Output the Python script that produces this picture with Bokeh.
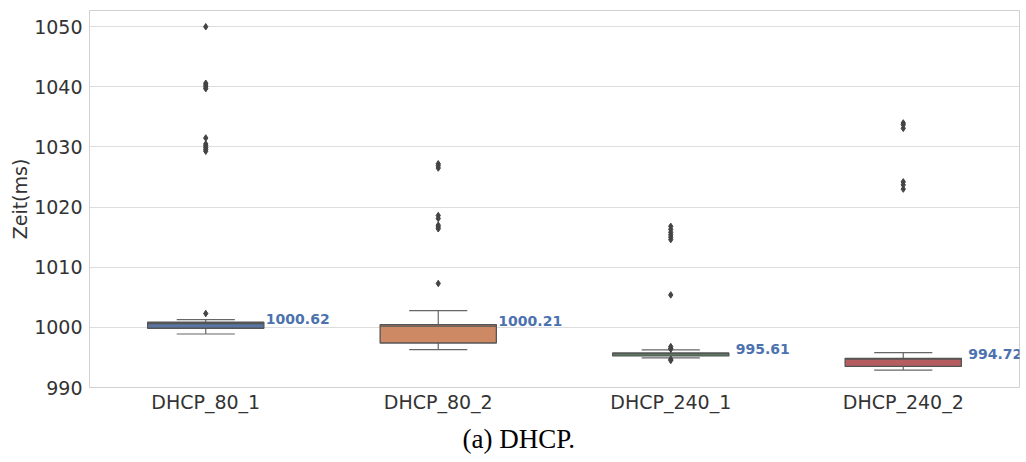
from bokeh.plotting import figure
from bokeh.models import ColumnDataSource, Range1d, FixedTicker, Title, Label
from bokeh.transform import dodge
from bokeh.embed import file_html
from bokeh.resources import INLINE

categories = ["DHCP_80_1", "DHCP_80_2", "DHCP_240_1", "DHCP_240_2"]
q1 = [999.85, 997.4, 995.25, 993.5]
q3 = [1000.85, 1000.47, 995.75, 994.85]
medians = [1000.62, 1000.21, 995.61, 994.72]
whisker_low = [998.9, 996.3, 994.93, 992.9]
whisker_high = [1001.3, 1002.8, 996.26, 995.8]
median_labels = ["1000.62", "1000.21", "995.61", "994.72"]
colors = ["#5975a4", "#cc8963", "#5f9e6e", "#b55d60"]

outliers_80_1 = [1050.0, 1040.6, 1040.3, 1040.0, 1039.7, 1031.5, 1030.5, 1030.2,
                 1029.9, 1029.6, 1029.3, 1002.3]
outliers_80_2 = [1027.2, 1026.9, 1026.5, 1018.6, 1018.1, 1017.0, 1016.7, 1016.4, 1007.3]
outliers_240_1 = [1016.8, 1016.3, 1015.8, 1015.4, 1015.0, 1014.6, 1005.4,
                  996.8, 996.5, 996.4, 994.7, 994.5]
outliers_240_2 = [1034.0, 1033.7, 1033.1, 1024.2, 1023.7, 1023.0]
outliers = [outliers_80_1, outliers_80_2, outliers_240_1, outliers_240_2]

EDGE = "#555555"
WHISK = "#666666"
TXT = "#333333"

p = figure(width=1026, height=462, x_range=categories, y_range=Range1d(990, 1052.7),
           output_backend="svg", toolbar_location=None,
           min_border_left=89, min_border_right=7, min_border_top=10, min_border_bottom=75)

src = ColumnDataSource(dict(cat=categories, q1=q1, q3=q3, med=medians, lo=whisker_low,
                            hi=whisker_high, color=colors))

# whiskers
p.segment(x0="cat", x1="cat", y0="q3", y1="hi", source=src, line_color=WHISK, line_width=1.2)
p.segment(x0="cat", x1="cat", y0="q1", y1="lo", source=src, line_color=WHISK, line_width=1.2)
p.segment(x0=dodge("cat", -0.125, range=p.x_range), x1=dodge("cat", 0.125, range=p.x_range),
          y0="hi", y1="hi", source=src, line_color=WHISK, line_width=1.2)
p.segment(x0=dodge("cat", -0.125, range=p.x_range), x1=dodge("cat", 0.125, range=p.x_range),
          y0="lo", y1="lo", source=src, line_color=WHISK, line_width=1.2)

# boxes
p.vbar(x="cat", width=0.5, top="q3", bottom="q1", source=src, fill_color="color",
       line_color=EDGE, line_width=1.3)
p.segment(x0=dodge("cat", -0.25, range=p.x_range), x1=dodge("cat", 0.25, range=p.x_range),
          y0="med", y1="med", source=src, line_color=EDGE, line_width=1.3)

# outliers
ox, oy = [], []
for c, vals in zip(categories, outliers):
    for v in vals:
        ox.append(c)
        oy.append(v)
p.scatter(x=ox, y=oy, marker="diamond", size=6.5, fill_color="#444444", line_color="#444444")

# median labels (annotations so they are not clipped at the frame edge);
# x uses the categorical range's synthetic coordinate (factor i sits at i + 0.5)
for i, (m, lab) in enumerate(zip(medians, median_labels)):
    p.add_layout(Label(x=i + 0.5, y=m, text=lab, x_offset=92, y_offset=5,
                       text_font="DejaVu Sans", text_font_size="14px",
                       text_font_style="bold", text_color="#4c72b0",
                       text_baseline="middle", text_align="center"))

# axes styling
p.yaxis.ticker = FixedTicker(ticks=[990, 1000, 1010, 1020, 1030, 1040, 1050])
p.yaxis.axis_label = "Zeit(ms)"
for ax in (p.xaxis[0], p.yaxis[0]):
    ax.axis_line_color = None
    ax.major_tick_line_color = None
    ax.minor_tick_line_color = None
    ax.major_tick_out = 0
    ax.major_tick_in = 0
    ax.minor_tick_out = 0
    ax.minor_tick_in = 0
    ax.major_label_text_font = "DejaVu Sans"
    ax.major_label_text_font_size = "19px"
    ax.major_label_text_color = TXT
p.yaxis.axis_label_text_font = "DejaVu Sans"
p.yaxis.axis_label_text_font_size = "19px"
p.yaxis.axis_label_text_font_style = "normal"
p.yaxis.axis_label_text_color = TXT
p.yaxis.axis_label_standoff = 0
p.yaxis.major_label_standoff = 7
p.xaxis.major_label_standoff = 3

p.xgrid.grid_line_color = None
p.ygrid.grid_line_color = "#dddddd"
p.outline_line_color = "#d0d0d0"
p.outline_line_width = 1

cap = Title(text="(a) DHCP.", align="left", offset=373, text_font="Liberation Serif",
            text_font_size="27px", text_font_style="normal", text_color="#000000",
            standoff=13)
p.add_layout(cap, "below")

open("out.html", "w").write(file_html(p, INLINE))
